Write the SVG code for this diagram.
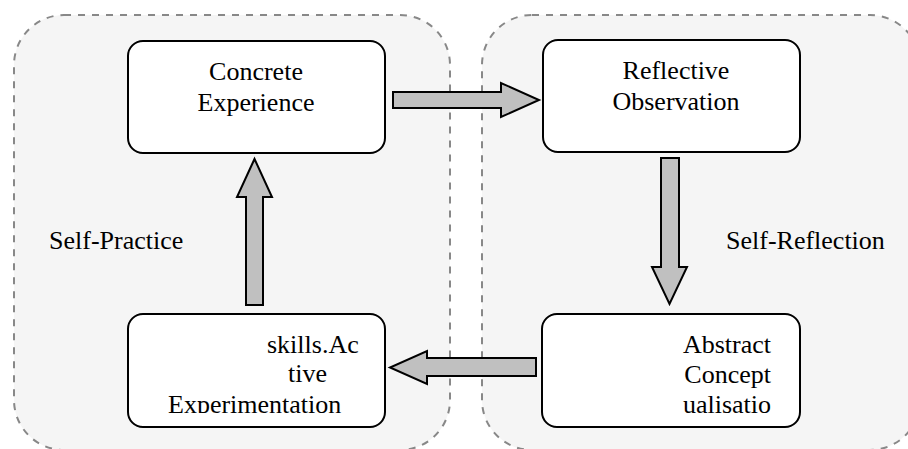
<svg xmlns="http://www.w3.org/2000/svg" width="908" height="449" viewBox="0 0 908 449">
<style>
.container{fill:#f5f5f5;stroke:#888888;stroke-width:2;stroke-dasharray:7 7}
.box{fill:#ffffff;stroke:#000000;stroke-width:2}
.arrow{fill:#c0c0c0;stroke:#000000;stroke-width:2;stroke-linejoin:miter}
text{font-family:"Liberation Serif","Times New Roman",serif;font-size:26px;fill:#000000}
.c{text-anchor:middle}
.e{text-anchor:end}
</style>
<defs>
<clipPath id="clipAE"><rect x="128" y="314" width="257" height="99"/></clipPath>
<clipPath id="clipAC"><rect x="542" y="314" width="258" height="99"/></clipPath>
</defs>
<g id="self-practice">
<rect class="container" x="14" y="15" width="436" height="435" rx="50" ry="50"/>
<text x="49" y="249">Self-Practice</text>
</g>
<g id="self-reflection">
<rect class="container" x="482" y="15" width="438" height="435" rx="50" ry="50"/>
<text x="726" y="249">Self-Reflection</text>
</g>
<g id="connectors">
<polygon class="arrow" points="393,92 501,92 501,83 539,100 501,117 501,108 393,108"/>
<polygon class="arrow" points="661,158 679,158 679,267 687,267 669.5,304 652,267 661,267"/>
<polygon class="arrow" points="536,358 427,358 427,351 390,367.5 427,384 427,376 536,376"/>
<polygon class="arrow" points="246,305 246,197 237,197 254.5,159 272,197 263,197 263,305"/>
</g>
<g id="concrete-experience">
<rect class="box" x="128" y="41" width="257" height="112" rx="15" ry="15"/>
<text class="c" x="256" y="80">Concrete</text>
<text class="c" x="256" y="111">Experience</text>
</g>
<g id="reflective-observation">
<rect class="box" x="543" y="40" width="257" height="112" rx="15" ry="15"/>
<text class="c" x="676" y="79">Reflective</text>
<text class="c" x="676" y="110">Observation</text>
</g>
<g id="abstract-conceptualisation">
<rect class="box" x="542" y="314" width="258" height="113" rx="15" ry="15"/>
<g clip-path="url(#clipAC)">
<text class="e" x="771" y="353">Abstract</text>
<text class="e" x="771" y="383">Concept</text>
<text class="e" x="771" y="413">ualisatio</text>
</g>
</g>
<g id="active-experimentation">
<rect class="box" x="128" y="314" width="257" height="113" rx="15" ry="15"/>
<g clip-path="url(#clipAE)">
<text x="267" y="353">skills.Ac</text>
<text x="288" y="382">tive</text>
<text x="168" y="413">Experimentation</text>
</g>
</g>
</svg>
